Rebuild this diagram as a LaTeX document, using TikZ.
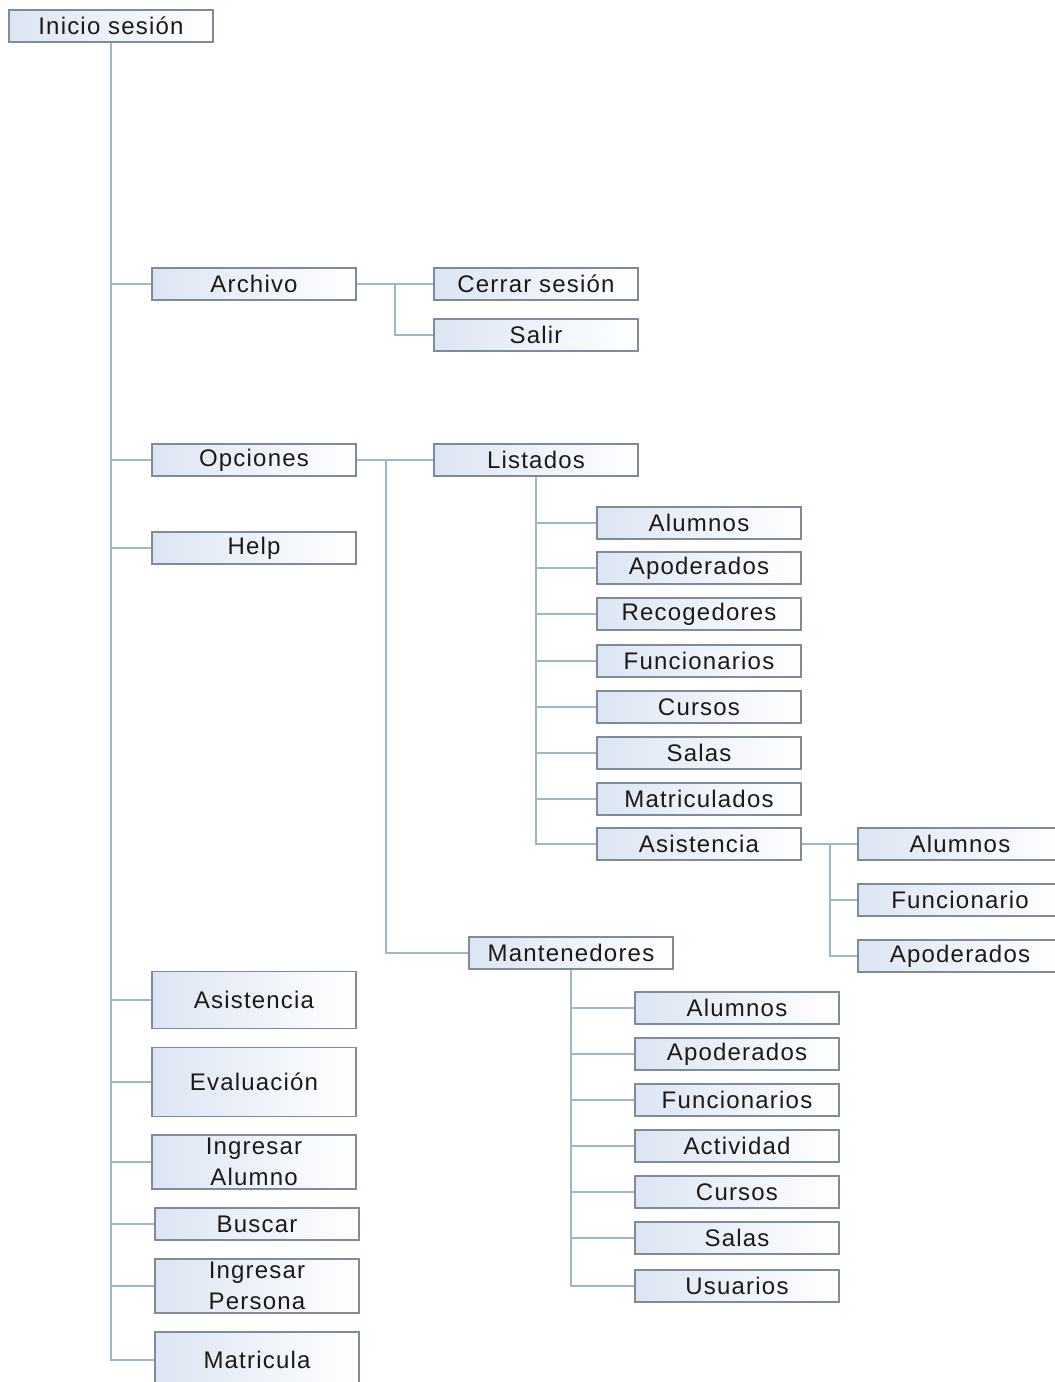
\documentclass[tikz,border=0pt]{standalone}
\usepackage{fontspec}
\setmainfont{Liberation Sans}[LetterSpace=5]
\begin{document}
\definecolor{boxedge}{HTML}{7D8C98}
\definecolor{boxtint}{HTML}{DCE5F3}
\definecolor{wire}{HTML}{9DB7C9}
\definecolor{ink}{HTML}{1A1A1A}
\begin{tikzpicture}[x=1pt,y=-1pt,
  menu/.style={draw=boxedge, line width=1.4pt, left color=boxtint, right color=white,
    text=ink, minimum width=204pt, minimum height=32pt, inner sep=0pt,
    font=\fontsize{24}{31}\selectfont, align=center},
  tall/.style={menu, minimum height=#1},
  link/.style={draw=wire, line width=1.8pt}]
\useasboundingbox (0,0) rectangle (1055,1382);
\clip (0,0) rectangle (1055,1382);

% root and first level
\node[menu] (root) at (111,26) {Inicio sesión};
\node[menu] (archivo) at (254,284) {Archivo};
\node[menu] (opciones) at (254,460) {Opciones};
\node[menu] (help) at (254,548) {Help};
\node[tall=57pt] (asis) at (254,1000) {Asistencia};
\node[tall=69pt] (eval) at (254,1082) {Evaluación};
\node[tall=54pt] (ingal) at (254,1162) {Ingresar\\Alumno};
\node[menu] (buscar) at (257,1224) {Buscar};
\node[tall=54pt] (ingper) at (257,1286) {Ingresar\\Persona};
\node[tall=56pt] (matr) at (257,1360) {Matricula};

% Archivo submenu
\node[menu] (cerrar) at (536,284) {Cerrar sesión};
\node[menu] (salir) at (536,335) {Salir};

% Opciones submenu
\node[menu] (listados) at (536,460) {Listados};
\node[menu] (mant) at (571,953) {Mantenedores};

% Listados entries
\node[menu] (l1) at (699,523) {Alumnos};
\node[menu] (l2) at (699,568) {Apoderados};
\node[menu] (l3) at (699,614) {Recogedores};
\node[menu] (l4) at (699,661) {Funcionarios};
\node[menu] (l5) at (699,707) {Cursos};
\node[menu] (l6) at (699,753) {Salas};
\node[menu] (l7) at (699,799) {Matriculados};
\node[menu] (l8) at (699,844) {Asistencia};

% Asistencia (listados) entries
\node[menu] (a1) at (960,844) {Alumnos};
\node[menu] (a2) at (960,900) {Funcionario};
\node[menu] (a3) at (960,956) {Apoderados};

% Mantenedores entries
\node[menu] (m1) at (737,1008) {Alumnos};
\node[menu] (m2) at (737,1054) {Apoderados};
\node[menu] (m3) at (737,1100) {Funcionarios};
\node[menu] (m4) at (737,1146) {Actividad};
\node[menu] (m5) at (737,1192) {Cursos};
\node[menu] (m6) at (737,1238) {Salas};
\node[menu] (m7) at (737,1286) {Usuarios};

% junction points
\coordinate (ja) at (395,284);
\coordinate (jo) at (386,460);
\coordinate (jl) at (830,844);

% trunk
\foreach \n in {archivo,opciones,help,asis,eval,ingal,buscar,ingper,matr}
  \draw[link] (root.south) |- (\n.west);
% Archivo
\draw[link] (archivo.east) -- (cerrar.west);
\draw[link] (ja) |- (salir.west);
% Opciones
\draw[link] (opciones.east) -- (listados.west);
\draw[link] (jo) |- (mant.west);
% Listados
\foreach \n in {l1,l2,l3,l4,l5,l6,l7,l8}
  \draw[link] (listados.south) |- (\n.west);
% Asistencia
\draw[link] (l8.east) -- (a1.west);
\draw[link] (jl) |- (a2.west);
\draw[link] (jl) |- (a3.west);
% Mantenedores
\foreach \n in {m1,m2,m3,m4,m5,m6,m7}
  \draw[link] (mant.south) |- (\n.west);
\end{tikzpicture}
\end{document}
